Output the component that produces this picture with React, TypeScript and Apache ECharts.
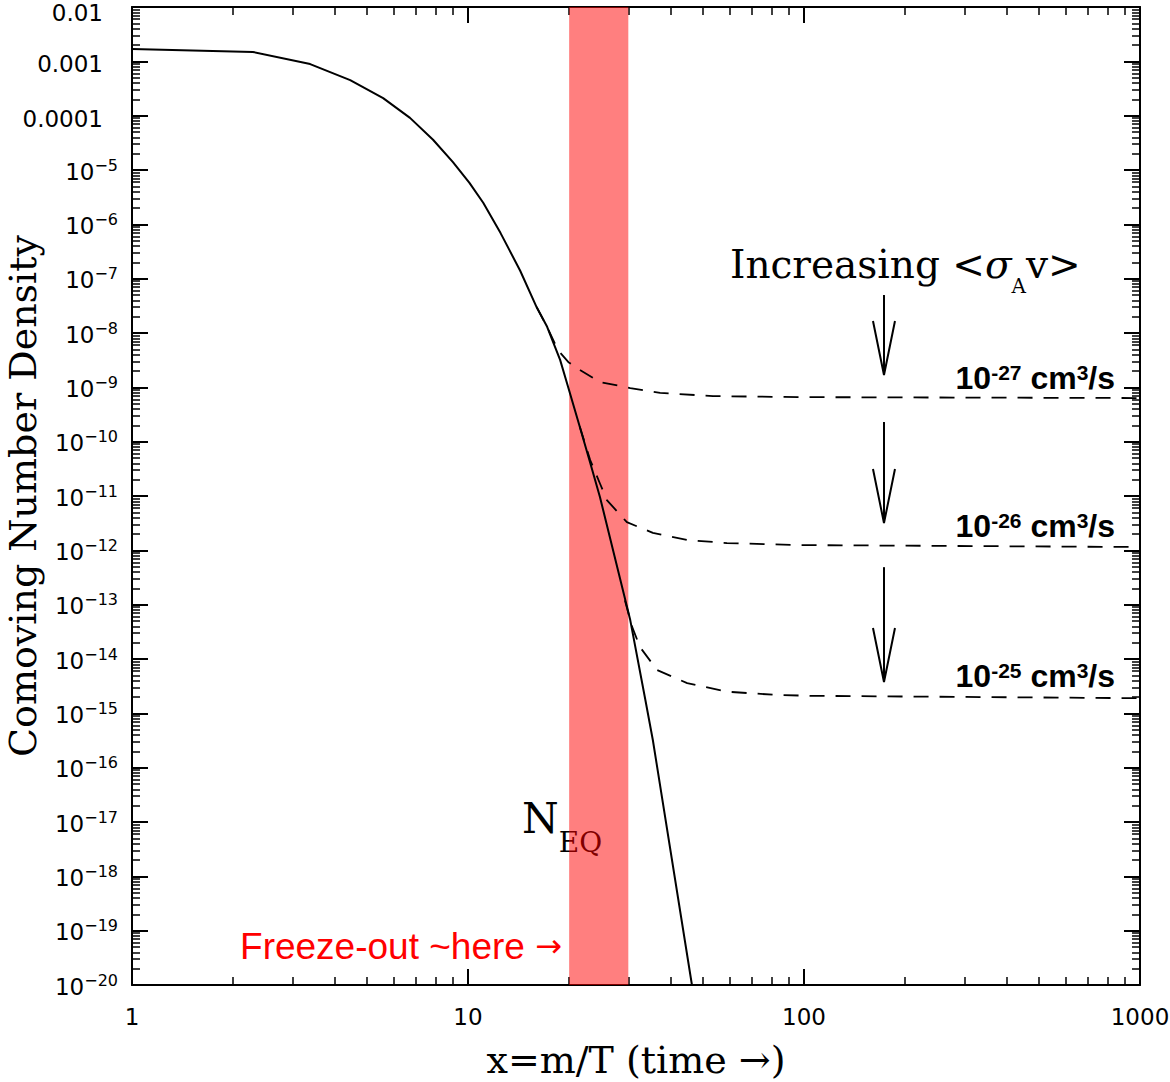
import React, { useEffect, useRef } from "react";
import * as echarts from "echarts";

// Equilibrium (solid) curve
const xEq = [1, 2.29, 3.39, 4.46, 5.59, 6.72, 7.87, 9.02, 10.1, 11.1, 12.5, 14.3, 16.0, 17.2, 18.8, 19.9, 21.5, 23.1, 24.7, 30.4, 33.7, 35.5, 46.4];
const yEq = [1.69e-3, 1.49e-3, 8.9e-4, 4.5e-4, 2.1e-4, 9.1e-5, 3.6e-5, 1.4e-5, 5.8e-6, 2.5e-6, 6.9e-7, 1.4e-7, 3.0e-8, 1.3e-8, 3.2e-9, 9.7e-10, 1.9e-10, 4.1e-11, 9.6e-12, 5.2e-14, 1.8e-15, 3.2e-16, 1e-20];

// Freeze-out curves (dashed) for <sigma v> = 1e-27, 1e-26, 1e-25 cm^3/s
const x27 = [16.0, 17.2, 18.5, 19.9, 21.5, 24.7, 30.4, 37.3, 53.6, 97.3, 1000];
const y27 = [3.0e-8, 1.29e-8, 4.9e-9, 2.9e-9, 2.1e-9, 1.25e-9, 9.7e-10, 7.9e-10, 6.9e-10, 6.6e-10, 6.35e-10];
const x26 = [21.5, 23.1, 24.7, 25.9, 29.7, 35.5, 44.9, 59.0, 97.3, 1000];
const y26 = [1.9e-10, 4.6e-11, 1.7e-11, 8.4e-12, 3.3e-12, 2.1e-12, 1.55e-12, 1.36e-12, 1.25e-12, 1.15e-12];
const x25 = [29.3, 30.8, 32.5, 36.5, 44.9, 59.0, 80.9, 104, 1000];
const y25 = [1.2e-13, 3.9e-14, 1.66e-14, 6.3e-15, 3.6e-15, 2.5e-15, 2.2e-15, 2.1e-15, 1.9e-15];

// Freeze-out band (x range)
const freezeBand = [20, 30];

// "Increasing <σv>" arrows: x position, top and tip values
const arrowX = 173;
const arrowTops = [5.0e-8, 2.3e-10, 4.9e-13];
const arrowTips = [1.69e-9, 3.18e-12, 3.77e-15];

// Cross-section labels
const sigmaExps = ["-27", "-26", "-25"];

const xAxisTitle = "x=m/T (time \u2192)";
const yAxisTitle = "Comoving Number Density";

const zip = (xs: number[], ys: number[]) => xs.map((x, i) => [x, ys[i]]);

const SERIF = "'DejaVu Serif', serif";
const SANS = "'DejaVu Sans', sans-serif";
const LSANS = "'Liberation Sans', Arial, sans-serif";

export default function App() {
  const ref = useRef<HTMLDivElement>(null);

  useEffect(() => {
    document.body.style.margin = "0";
    if (!ref.current) return;
    const chart = echarts.init(ref.current, undefined, { renderer: "svg" });

    const tickCommon = {
      axisLine: { show: true, onZero: false, lineStyle: { color: "#000", width: 2 } },
      axisTick: { show: true, inside: true, length: 16, lineStyle: { color: "#000", width: 2 } },
      minorTick: { show: true, inside: true, splitNumber: 9, length: 8, lineStyle: { color: "#000", width: 1.5 } },
      splitLine: { show: false },
      minorSplitLine: { show: false },
    };

    const yLabelRich = {
      t: { fontFamily: SANS, fontSize: 23, lineHeight: 26, color: "#000", padding: [12, 15, 0, 0] },
      d: { fontFamily: SANS, fontSize: 23, lineHeight: 26, color: "#000", padding: [6, 15, 0, 0] },
      b: { fontFamily: SANS, fontSize: 23, lineHeight: 26, color: "#000", verticalAlign: "bottom" },
      s: { fontFamily: SANS, fontSize: 16, lineHeight: 16, color: "#000", verticalAlign: "top" },
    };

    const dashed = { color: "#000", width: 1.8, type: [15, 11] as any };

    const labelY = [362, 510, 660];

    const option: any = {
      animation: false,
      backgroundColor: "#fff",
      grid: { left: 132, right: 30, top: 7, bottom: 97, containLabel: false, outerBoundsMode: "none" },
      xAxis: [
        {
          type: "log",
          logBase: 10,
          min: 1,
          max: 1000,
          interval: 1,
          position: "bottom",
          ...tickCommon,
          axisLabel: {
            show: true,
            margin: 20,
            fontFamily: SANS,
            fontSize: 23,
            color: "#000",
            formatter: (v: number) => String(Math.round(v)),
          },
          name: xAxisTitle,
          nameLocation: "middle",
          nameGap: 55,
          nameMoveOverlap: false,
          nameTextStyle: { fontFamily: SERIF, fontSize: 38, lineHeight: 40, color: "#000" },
        },
        {
          type: "log",
          logBase: 10,
          min: 1,
          max: 1000,
          interval: 1,
          position: "top",
          ...tickCommon,
          axisLabel: { show: false },
        },
      ],
      yAxis: [
        {
          type: "log",
          logBase: 10,
          min: 1e-20,
          max: 1e-2,
          interval: 1,
          position: "left",
          ...tickCommon,
          axisLabel: {
            show: true,
            margin: 14,
            formatter: (v: number) => {
              const e = Math.round(Math.log10(v));
              if (e === -2) return `{t|${Math.pow(10, e).toFixed(-e)}}`;
              if (e >= -4) return `{d|${Math.pow(10, e).toFixed(-e)}}`;
              return `{b|10}{s|\u2212${-e}}`;
            },
            rich: yLabelRich,
          },
          name: yAxisTitle,
          nameLocation: "middle",
          nameGap: 89,
          nameRotate: 90,
          nameMoveOverlap: false,
          nameTextStyle: { fontFamily: SERIF, fontSize: 38, lineHeight: 40, color: "#000" },
        },
        {
          type: "log",
          logBase: 10,
          min: 1e-20,
          max: 1e-2,
          interval: 1,
          position: "right",
          ...tickCommon,
          axisLabel: { show: false },
        },
      ],
      series: [
        {
          name: "N_EQ",
          type: "line",
          data: zip(xEq, yEq),
          showSymbol: false,
          symbol: "none",
          lineStyle: { color: "#000", width: 2 },
          z: 3,
        },
        {
          name: "1e-27",
          type: "line",
          data: zip(x27, y27),
          showSymbol: false,
          symbol: "none",
          lineStyle: dashed,
          z: 3,
        },
        {
          name: "1e-26",
          type: "line",
          data: zip(x26, y26),
          showSymbol: false,
          symbol: "none",
          lineStyle: dashed,
          z: 3,
        },
        {
          name: "1e-25",
          type: "line",
          data: zip(x25, y25),
          showSymbol: false,
          symbol: "none",
          lineStyle: dashed,
          z: 3,
        },
        {
          name: "arrows",
          type: "custom",
          z: 3,
          silent: true,
          data: arrowTops.map((t, i) => [arrowX, t, arrowTips[i]]),
          encode: { x: 0, y: [1, 2] },
          renderItem: (params: any, api: any) => {
            const top = api.coord([api.value(0), api.value(1)]);
            const tip = api.coord([api.value(0), api.value(2)]);
            return {
              type: "group",
              children: [
                {
                  type: "line",
                  shape: { x1: top[0], y1: top[1], x2: tip[0], y2: tip[1] },
                  style: { stroke: "#000", lineWidth: 2 },
                },
                {
                  type: "polyline",
                  shape: {
                    points: [
                      [tip[0] - 11, tip[1] - 54],
                      [tip[0], tip[1]],
                      [tip[0] + 11, tip[1] - 54],
                    ],
                  },
                  style: { stroke: "#000", lineWidth: 2, fill: "none" },
                },
              ],
            };
          },
        },
        {
          name: "freeze-out band",
          type: "line",
          data: [],
          z: 8,
          silent: true,
          markArea: {
            silent: true,
            itemStyle: { color: "rgba(255,0,0,0.5)", borderWidth: 0 },
            data: [[{ xAxis: freezeBand[0] }, { xAxis: freezeBand[1] }]],
          },
        },
      ],
      graphic: [
        {
          type: "text",
          z: 1,
          x: 522,
          y: 797,
          style: {
            text: "{n|N}{s|EQ}",
            verticalAlign: "top",
            align: "left",
            rich: {
              n: { fontFamily: SERIF, fontSize: 42, lineHeight: 46, verticalAlign: "top", fill: "#000" },
              s: { fontFamily: SERIF, fontSize: 28, lineHeight: 28, padding: [31, 0, 0, 0], verticalAlign: "top", fill: "#000" },
            },
          },
        },
        {
          type: "text",
          z: 20,
          x: 730,
          y: 245,
          style: {
            text: "{m|Increasing <}{g|\u03c3}{a|A}{m|v>}",
            verticalAlign: "top",
            align: "left",
            rich: {
              m: { fontFamily: SERIF, fontSize: 39, lineHeight: 42, verticalAlign: "top", fill: "#000" },
              g: { fontFamily: SERIF, fontSize: 39, lineHeight: 42, fontStyle: "italic", verticalAlign: "top", fill: "#000" },
              a: { fontFamily: SERIF, fontSize: 20, lineHeight: 20, padding: [31, 0, 0, 0], verticalAlign: "top", fill: "#000" },
            },
          },
        },
        ...sigmaExps.map((e, i) => ({
          type: "text",
          z: 20,
          x: 1115,
          y: labelY[i],
          style: {
            text: `{b|10}{s|${e}}{b| cm}{s|3}{b|/s}`,
            verticalAlign: "top",
            align: "right",
            rich: {
              b: { fontFamily: LSANS, fontWeight: "bold", fontSize: 32, lineHeight: 34, verticalAlign: "top", fill: "#000" },
              s: { fontFamily: LSANS, fontWeight: "bold", fontSize: 21, lineHeight: 21, verticalAlign: "top", fill: "#000" },
            },
          },
        })),
        {
          type: "text",
          z: 20,
          x: 562,
          y: 946,
          style: {
            text: "{t|Freeze-out ~here }{r|\u2192}",
            align: "right",
            verticalAlign: "middle",
            rich: {
              t: { fontFamily: LSANS, fontSize: 37, lineHeight: 42, fill: "#ff0000", verticalAlign: "middle" },
              r: { fontFamily: SANS, fontSize: 32, lineHeight: 42, fill: "#ff0000", verticalAlign: "middle" },
            },
          },
        },
      ],
    };

    chart.setOption(option);
    return () => chart.dispose();
  }, []);

  return <div ref={ref} style={{ width: 1170, height: 1082 }} />;
}
